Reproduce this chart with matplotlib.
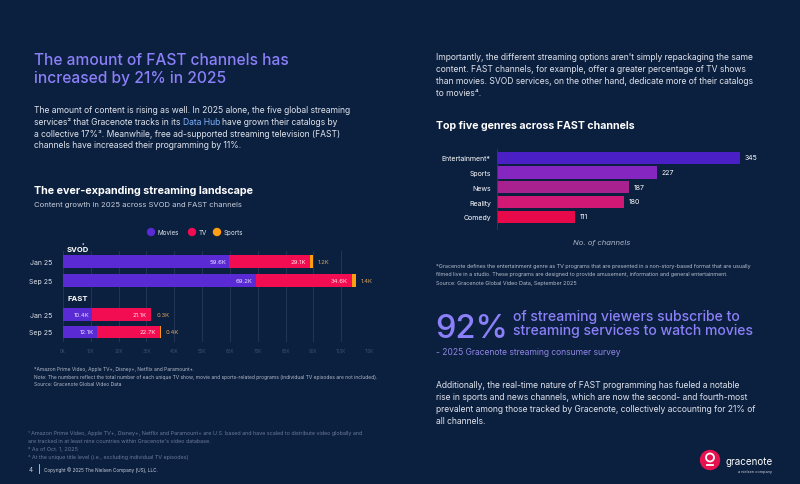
import matplotlib.pyplot as plt
from matplotlib.patches import Ellipse

plt.rcParams['font.family'] = ['Inter', 'DejaVu Sans']

# streaming landscape data (thousands of titles)
periods = ['Jan 25', 'Sep 25', 'Jan 25', 'Sep 25']
groups = ['SVOD', 'FAST']
movies = [59.6, 69.2, 10.4, 12.1]
tv = [29.1, 34.6, 21.1, 22.7]
sports = [1.2, 1.4, 0.3, 0.4]
x_ticks = [0, 10, 20, 30, 40, 50, 60, 70, 80, 90, 100, 110]

# top genres on FAST
genres = ['Entertainment*', 'Sports', 'News', 'Reality', 'Comedy']
channels = [345, 227, 187, 180, 111]

BG = '#0b1f3e'
LAV = '#8b80f9'
BODY = '#dfe3ec'
NOTE = '#b5bdcc'
FOOT = '#6a7a99'
C_MOV, C_TV, C_SPO = '#5a2bd5', '#f20d52', '#ff9d14'
GENRE_COLORS = ['#4a1fc6', '#8526c0', '#a8218f', '#d01874', '#e8094a']

W, H = 800, 485
fig = plt.figure(figsize=(8, 4.85), dpi=100, facecolor=BG)

# page layer in pixel coords
pg = fig.add_axes([0, 0, 1, 1], zorder=0)
pg.set_xlim(0, W)
pg.set_ylim(H, 0)
pg.axis('off')


def txt(x, y, s, size, color=BODY, **kw):
    return pg.text(x, y, s, fontsize=size, color=color, va='baseline', **kw)


# ---- left column text ----
txt(34, 65, 'The amount of FAST channels has', 11.2, LAV, fontweight='medium')
txt(34, 83, 'increased by 21% in 2025', 11.2, LAV, fontweight='medium')

BS = 6.15
txt(34, 113, 'The amount of content is rising as well. In 2025 alone, the five global streaming', BS)
t1 = txt(34, 125, 'services² that Gracenote tracks in its', BS)
txt(34, 137, 'a collective 17%³. Meanwhile, free ad-supported streaming television (FAST)', BS)
txt(34, 148, 'channels have increased their programming by 11%.', BS)

fig.canvas.draw()
r = fig.canvas.get_renderer()
inv = pg.transData.inverted()
x_end = inv.transform((t1.get_window_extent(r).x1, 0))[0]
t2 = txt(x_end + 2.2, 125, 'Data Hub', BS, '#7fb3ff')
fig.canvas.draw()
x_end = inv.transform((t2.get_window_extent(r).x1, 0))[0]
txt(x_end + 2.2, 125, 'have grown their catalogs by', BS)

txt(34, 194, 'The ever-expanding streaming landscape', 7.75, 'white', fontweight='bold')
txt(34, 207, 'Content growth in 2025 across SVOD and FAST channels', 5.5, '#c9cfdc')

# legend
for cx, tx, lab, c in [(151, 158, 'Movies', C_MOV), (192, 199, 'TV', C_TV), (217, 224, 'Sports', C_SPO)]:
    pg.add_patch(Ellipse((cx, 233), 7, 7, color=c))
    pg.text(tx, 233, lab, fontsize=4.5, color=BODY, va='center')

txt(67, 252, 'SVOD', 5.5, 'white', fontweight='bold')
txt(82, 247, '*', 3.5, 'white')
txt(67, 301, 'FAST', 5.5, 'white', fontweight='bold')

txt(34, 371, '*Amazon Prime Video, Apple TV+, Disney+, Netflix and Paramount+.', 3.55, NOTE)
txt(34, 379, 'Note: The numbers reflect the total number of each unique TV show, movie and sports-related programs '
             '(individual TV episodes are not included).', 3.55, NOTE)
txt(34, 386.5, 'Source: Gracenote Global Video Data', 3.55, NOTE)

txt(28, 435.5, '¹ Amazon Prime Video, Apple TV+, Disney+, Netflix and Paramount+ are U.S. based and have scaled '
               'to distribute video globally and', 3.93, FOOT)
txt(28, 443.5, "are tracked in at least nine countries within Gracenote's video database.", 3.93, FOOT)
txt(28, 451, '² As of Oct. 1, 2025', 3.93, FOOT)
txt(28, 459, '³ At the unique title level (i.e., excluding individual TV episodes)', 3.93, FOOT)

txt(29, 472, '4', 4.5, '#c9cfdc')
pg.plot([39, 39], [465, 474], color='#c9cfdc', lw=0.6)
txt(44, 472, 'Copyright © 2025 The Nielsen Company (US), LLC.', 3.37, '#c9cfdc')

# ---- right column text ----
right_par = ["Importantly, the different streaming options aren't simply repackaging the same",
             'content. FAST channels, for example, offer a greater percentage of TV shows',
             'than movies. SVOD services, on the other hand, dedicate more of their catalogs',
             'to movies⁴.']
for i, line in enumerate(right_par):
    txt(436, 60 + 12 * i, line, BS)

txt(436, 129, 'Top five genres across FAST channels', 7.65, 'white', fontweight='bold')

txt(436, 268, '*Gracenote defines the entertainment genre as TV programs that are presented in a non-story-based '
              'format that are usually', 3.93, NOTE)
txt(436, 276.5, 'filmed live in a studio. These programs are designed to provide amusement, information and '
                'general entertainment.', 3.93, NOTE)
txt(436, 285, 'Source: Gracenote Global Video Data, September 2025', 3.93, NOTE)

txt(435, 338, '92%', 23.5, LAV, fontweight='medium')
txt(513, 321, 'of streaming viewers subscribe to', 10.1, LAV, fontweight='medium')
txt(513, 335.5, 'streaming services to watch movies', 10.1, LAV, fontweight='medium')
txt(436, 355.5, '- 2025 Gracenote streaming consumer survey', 6.13, '#8f86e6')

add_par = ['Additionally, the real-time nature of FAST programming has fueled a notable',
           'rise in sports and news channels, which are now the second- and fourth-most',
           'prevalent among those tracked by Gracenote, collectively accounting for 21% of',
           'all channels.']
for i, line in enumerate(add_par):
    txt(436, 388 + 11.9 * i, line, BS)

# logo
pg.add_patch(Ellipse((710, 461), 19, 19, color='#e8114f'))
pg.add_patch(Ellipse((710, 458.5), 8, 8, fill=False, ec='white', lw=1.3))
pg.plot([707, 713], [466, 466], color='white', lw=1.3)
txt(726, 465, 'gracenote', 7.1, 'white')
txt(772, 473, 'a nielsen company', 2.8, '#d0d5e0', ha='right')

# ---- left chart: stacked bars ----
ypos = [0, 1, 2.81, 3.78]
ax = fig.add_axes([63 / W, 1 - 343 / H, (369 - 63) / W, (343 - 252) / H], zorder=2)
ax.set_facecolor('none')
bh = 0.7
left_tv = [m for m in movies]
left_sp = [m + t for m, t in zip(movies, tv)]
ax.barh(ypos, movies, height=bh, color=C_MOV, zorder=3)
ax.barh(ypos, tv, left=left_tv, height=bh, color=C_TV, zorder=3)
ax.barh(ypos, sports, left=left_sp, height=bh, color=C_SPO, zorder=3)
for y, m, t, s in zip(ypos, movies, tv, sports):
    ax.annotate(f'{m}K', (m, y), xytext=(-2, 0), textcoords='offset points',
                ha='right', va='center', fontsize=4.3, color='#e6e0ff', zorder=4)
    ax.annotate(f'{t}K', (m + t, y), xytext=(-3, 0), textcoords='offset points',
                ha='right', va='center', fontsize=4.3, color='#ffe0e8', zorder=4)
    ax.annotate(f'{s}K', (m + t + s, y), xytext=(3.5, 0), textcoords='offset points',
                ha='left', va='center', fontsize=4.3, color='#d9a35f', zorder=4)
ax.set_xlim(0, 110)
ax.set_ylim(4.32, -0.59)
ax.set_xticks(x_ticks)
ax.set_xticklabels([f'{v}K' for v in x_ticks])
ax.set_yticks(ypos)
ax.set_yticklabels(periods)
ax.tick_params(axis='x', length=0, labelsize=3.2, labelcolor='#3d5075', pad=4)
ax.tick_params(axis='y', length=0, labelsize=5, labelcolor=BODY, pad=8)
ax.grid(axis='x', color='#2a3e60', lw=0.5, zorder=0)
for sp in ax.spines.values():
    sp.set_visible(False)

# ---- right chart: genres ----
gy = list(range(len(genres)))
ax2 = fig.add_axes([497 / W, 1 - 230 / H, 400 * 0.7035 / W, 80 / H], zorder=2)
ax2.set_facecolor('none')
ax2.barh(gy, channels, height=0.82, color=GENRE_COLORS)
for y, v in zip(gy, channels):
    ax2.annotate(str(v), (v, y), xytext=(3.5, 0.5), textcoords='offset points',
                 ha='left', va='center', fontsize=5, color='white')
ax2.set_xlim(0, 400)
ax2.set_ylim(4.81, -0.59)
ax2.set_yticks(gy)
ax2.set_yticklabels(genres)
ax2.set_xticks([])
ax2.tick_params(axis='y', length=0, labelsize=5, labelcolor='white', pad=4.5)
for k in ['top', 'right', 'bottom']:
    ax2.spines[k].set_visible(False)
ax2.spines['left'].set_color('#2a3e60')
ax2.spines['left'].set_linewidth(0.6)
txt(602, 245, 'No. of channels', 5.5, '#aeb6c8', ha='center', style='italic')

fig.savefig('out.png', dpi=100, facecolor=BG)
